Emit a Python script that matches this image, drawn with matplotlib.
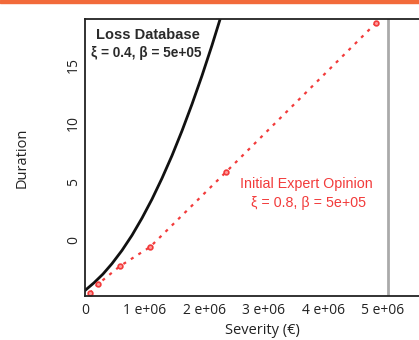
import matplotlib
matplotlib.use('Agg')
import matplotlib.pyplot as plt
from matplotlib.patches import Rectangle

# values (severity in units of 1e6)
loss_sev = [0.0, 0.143, 0.294, 0.445, 0.613, 0.782, 0.950, 1.118, 1.286,
            1.454, 1.622, 1.790, 1.958, 2.126, 2.294, 2.429]
loss_dur = [-4.28, -3.66, -2.91, -2.02, -0.89, 0.41, 1.88, 3.50, 5.29,
            7.23, 9.35, 11.63, 14.07, 16.67, 19.43, 21.75]

expert_sev = [0.076, 0.21, 0.58, 1.084, 2.361, 4.882]
expert_dur = [-4.54, -3.77, -2.23, -0.60, 5.82, 18.58]

threshold = 5.08e6

xticks = [0, 1e6, 2e6, 3e6, 4e6, 5e6]
xtick_labels = ['0', '1 e+06', '2 e+06', '3 e+06', '4 e+06', '5 e+06']
yticks = [0, 5, 10, 15]

red = '#f23b3b'

fig = plt.figure(figsize=(4.19, 3.40), dpi=100)
# orange band on top
fig.add_artist(Rectangle((0, 1 - 3 / 340), 1, 3 / 340, transform=fig.transFigure,
                         color='#f26a3a', zorder=10))

ax = fig.add_axes([85 / 419, 44 / 340, 355 / 419, 277 / 340])

ax.plot([s * 1e6 for s in loss_sev], loss_dur, color='#111111', lw=2.0)
ax.plot([s * 1e6 for s in expert_sev], expert_dur, color=red, lw=1.6,
        linestyle=(0, (1.4, 2.6)), marker='o', ms=3.4, mfc='#ff9a9a', mec=red, mew=1.2)
ax.axvline(threshold, color='#aaaaaa', lw=2)

ax.text(1.05e6, 17.55, 'Loss Database', ha='center', va='center',
        family='Liberation Sans', fontweight='bold', fontsize=10.5, color='#2a2a2a')
ax.text(1.02e6, 16.0, r'ξ = 0.4, β = 5e+05', ha='center', va='center',
        family='Liberation Sans', fontweight='bold', fontsize=9.8, color='#2a2a2a')
ax.text(3.72e6, 4.79, 'Initial Expert Opinion', ha='center', va='center',
        family='Liberation Sans', fontsize=10.3, color=red)
ax.text(3.75e6, 3.17, r'ξ = 0.8, β = 5e+05', ha='center', va='center',
        family='Liberation Sans', fontsize=10.3, color=red)

ax.set_xlim(-0.0084e6, 355 / 59.5 * 1e6 - 0.0084e6)
ax.set_ylim(-4.79, 18.92)

ax.set_xticks(xticks)
ax.set_xticklabels(xtick_labels, family='Open Sans', fontsize=10, color='#222222')
ax.set_yticks(yticks)
ax.set_yticklabels([str(v) for v in yticks], family='Open Sans', fontsize=10,
                   color='#222222', rotation=90, va='center')
ax.tick_params(axis='x', length=0, pad=5)
ax.tick_params(axis='y', length=0, pad=3)

ax.set_xlabel('Severity (€)', family='Open Sans', fontsize=10.5, color='#222222', labelpad=4)
ax.set_ylabel('Duration', family='Open Sans', fontsize=10.5, color='#222222', labelpad=26)

for sp in ax.spines.values():
    sp.set_color('#222222')
    sp.set_linewidth(1.3)

fig.savefig('out.png', dpi=100)
